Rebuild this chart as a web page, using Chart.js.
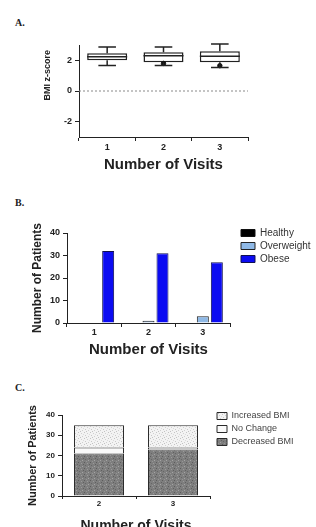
<!DOCTYPE html>
<html><head><meta charset="utf-8">
<script src="https://cdn.jsdelivr.net/npm/chart.js@4.4.1/dist/chart.umd.min.js"></script>
<style>
html,body{margin:0;padding:0;background:#fff;width:316px;height:527px;overflow:hidden;position:relative;}
canvas{position:absolute;left:0;}
.lbl{position:absolute;font:bold 10px/10px "Liberation Serif",serif;color:#222;}
</style></head><body>
<div class="lbl" style="left:15px;top:18px">A.</div>
<div class="lbl" style="left:15px;top:198px">B.</div>
<div class="lbl" style="left:15px;top:383px">C.</div>
<canvas id="cA" width="316" height="180" style="top:0"></canvas>
<canvas id="cB" width="316" height="180" style="top:180px"></canvas>
<canvas id="cC" width="316" height="175" style="top:360px"></canvas>
<script>
// ---------- data ----------
// Panel A: BMI z-score box plots
const visitsA = ['1', '2', '3'];
const whiskerLow = [1.67, 1.67, 1.53];
const q1 = [2.0, 1.87, 1.87];
const median = [2.23, 2.3, 2.27];
const q3 = [2.47, 2.53, 2.6];
const whiskerHigh = [2.87, 2.87, 3.07];
const outlierA = [null, 1.8, 1.65];
const yTicksA = [-2, 0, 2];

// Panel B: weight category counts
const visitsB = ['1', '2', '3'];
const healthy = [0, 0, 0];
const overweight = [0, 1, 3];
const obese = [32, 31, 27];

// Panel C: BMI change counts
const visitsC = ['2', '3'];
const decreasedBMI = [21, 23];
const noChange = [3, 1];
const increasedBMI = [11, 11];

// ---------- styling ----------
const F = '"Liberation Sans", Arial, sans-serif';
const INK = '#222';
Chart.defaults.font.family = F;
Chart.defaults.color = INK;

function axisGrid(len) {
  return { display: true, drawOnChartArea: false, drawTicks: true, tickLength: len, color: INK, lineWidth: 1 };
}
function gapAxis(w) {
  return { type: 'linear', position: 'right', display: true, grid: { display: false }, border: { display: false },
           ticks: { display: false }, afterFit(s) { s.width = w; } };
}
function makePattern(base, dots) {
  const c = document.createElement('canvas');
  c.width = 6; c.height = 6;
  const g = c.getContext('2d');
  g.fillStyle = base; g.fillRect(0, 0, 6, 6);
  dots.forEach(d => { g.fillStyle = d[2]; g.fillRect(d[0], d[1], 1, 1); });
  return g.createPattern(c, 'repeat');
}

// ---------- Panel A ----------
const boxPlugin = {
  id: 'boxWhiskers',
  beforeDatasetsDraw(chart) {
    const { ctx, chartArea } = chart;
    const y = chart.scales.y;
    ctx.save();
    ctx.strokeStyle = '#8a8a8a';
    ctx.lineWidth = 1;
    ctx.setLineDash([2, 2]);
    ctx.beginPath();
    ctx.moveTo(chartArea.left, y.getPixelForValue(0));
    ctx.lineTo(chartArea.right, y.getPixelForValue(0));
    ctx.stroke();
    ctx.restore();
  },
  afterDatasetsDraw(chart) {
    const { ctx } = chart;
    const y = chart.scales.y;
    const meta = chart.getDatasetMeta(0);
    ctx.save();
    ctx.strokeStyle = INK;
    ctx.lineWidth = 1.5;
    meta.data.forEach((bar, i) => {
      const x = bar.x, hw = bar.width / 2, cw = bar.width * 0.22;
      const yMed = y.getPixelForValue(median[i]);
      const yQ1 = y.getPixelForValue(q1[i]);
      const yQ3 = y.getPixelForValue(q3[i]);
      const yLo = y.getPixelForValue(whiskerLow[i]);
      const yHi = y.getPixelForValue(whiskerHigh[i]);
      ctx.beginPath();
      ctx.moveTo(x - hw, yMed); ctx.lineTo(x + hw, yMed);
      ctx.moveTo(x, yQ3); ctx.lineTo(x, yHi);
      ctx.moveTo(x - cw, yHi); ctx.lineTo(x + cw, yHi);
      ctx.moveTo(x, yQ1); ctx.lineTo(x, yLo);
      ctx.moveTo(x - cw, yLo); ctx.lineTo(x + cw, yLo);
      ctx.stroke();
    });
    ctx.restore();
  }
};

new Chart(document.getElementById('cA'), {
  type: 'bar',
  data: {
    labels: visitsA,
    datasets: [
      { label: 'IQR', data: visitsA.map((_, i) => [q1[i], q3[i]]), backgroundColor: '#ffffff',
        borderColor: INK, borderWidth: 1.5, borderSkipped: false, barPercentage: 0.71, categoryPercentage: 1, order: 2 },
      { type: 'line', label: 'Outliers', data: outlierA, showLine: false, pointRadius: 2.2,
        pointBackgroundColor: '#111', pointBorderColor: '#111', order: 1 }
    ]
  },
  options: {
    responsive: false, animation: false, devicePixelRatio: 1,
    layout: { padding: { left: 39, right: 68, top: 45, bottom: 0 } },
    plugins: { legend: { display: false }, tooltip: { enabled: false } },
    scales: {
      x: { offset: true, grid: axisGrid(4), border: { color: INK, width: 1 },
           ticks: { font: { size: 9, weight: 'bold' }, padding: 1, color: INK },
           title: { display: true, text: 'Number of Visits', color: INK, font: { size: 15, weight: 'bold' }, padding: { top: 0, bottom: 6 } },
           afterFit(s) { s.height = 43; } },
      y: { min: -3, max: 3, grid: axisGrid(4), border: { color: INK, width: 1 },
           afterBuildTicks(s) { s.ticks = yTicksA.map(v => ({ value: v })); },
           ticks: { font: { size: 9, weight: 'bold' }, padding: 3, color: INK },
           title: { display: true, text: 'BMI z-score  ', align: 'end', color: INK, font: { size: 9, weight: 'bold' }, padding: { top: 3.6, bottom: 4 } },
           afterFit(s) { s.width = 40; } }
    }
  },
  plugins: [boxPlugin]
});

// ---------- Panel B ----------
new Chart(document.getElementById('cB'), {
  type: 'bar',
  data: {
    labels: visitsB,
    datasets: [
      { label: 'Healthy', data: healthy, backgroundColor: '#000000', borderColor: '#111', borderWidth: 1 },
      { label: 'Overweight', data: overweight, backgroundColor: '#8fb9e6', borderColor: '#222', borderWidth: 1 },
      { label: 'Obese', data: obese, backgroundColor: '#0b0bf2', borderColor: '#101050', borderWidth: 1 }
    ]
  },
  options: {
    responsive: false, animation: false, devicePixelRatio: 1,
    datasets: { bar: { barPercentage: 0.857, categoryPercentage: 0.773 } },
    layout: { padding: { left: 26, right: 0, top: 45, bottom: 0 } },
    plugins: {
      title: { display: true, text: '', font: { size: 6.67 }, padding: 0 },
      tooltip: { enabled: false },
      legend: { position: 'right', align: 'start', maxWidth: 78,
        labels: { boxWidth: 14, boxHeight: 7, padding: 3, color: '#333', font: { size: 10 } } }
    },
    scales: {
      x: { offset: true, grid: axisGrid(4), border: { color: INK, width: 1 },
           ticks: { font: { size: 9, weight: 'bold' }, padding: 0, color: INK },
           title: { display: true, text: 'Number of Visits', color: INK, font: { size: 15, weight: 'bold' }, padding: { top: 0, bottom: 1 } },
           afterFit(s) { s.height = 37; } },
      y: { min: 0, max: 40, grid: axisGrid(4), border: { color: INK, width: 1 },
           ticks: { stepSize: 10, font: { size: 9, weight: 'bold' }, padding: 3, color: INK },
           title: { display: true, text: 'Number of Patients', color: INK, font: { size: 12, weight: 'bold' }, padding: { top: 4, bottom: 4 } },
           afterFit(s) { s.width = 41; } },
      gap: gapAxis(8)
    }
  }
});

// ---------- Panel C ----------
const patDecreased = makePattern('#7e7e7e', [[0,0,'#5c5c5c'],[3,1,'#9a9a9a'],[1,3,'#666'],[4,4,'#a4a4a4'],[5,2,'#606060'],[2,5,'#959595']]);
const patIncreased = makePattern('#f3f3f3', [[0,0,'#c4c4c4'],[3,1,'#d0d0d0'],[1,3,'#c8c8c8'],[4,4,'#cfcfcf'],[5,2,'#dadada'],[2,5,'#c2c2c2']]);

new Chart(document.getElementById('cC'), {
  type: 'bar',
  data: {
    labels: visitsC,
    datasets: [
      { label: 'Decreased BMI', data: decreasedBMI, backgroundColor: patDecreased, borderColor: '#2a2a2a', borderWidth: 1 },
      { label: 'No Change', data: noChange, backgroundColor: '#fafafa', borderColor: '#2a2a2a', borderWidth: 1 },
      { label: 'Increased BMI', data: increasedBMI, backgroundColor: patIncreased, borderColor: '#2a2a2a', borderWidth: 1 }
    ]
  },
  options: {
    responsive: false, animation: false, devicePixelRatio: 1,
    datasets: { bar: { barPercentage: 0.676, categoryPercentage: 1 } },
    layout: { padding: { left: 22, right: 19, top: 47.5, bottom: 0 } },
    plugins: {
      title: { display: true, text: '', font: { size: 6.25 }, padding: 0 },
      tooltip: { enabled: false },
      legend: { position: 'right', align: 'start', maxWidth: 84, reverse: true,
        labels: { boxWidth: 10, boxHeight: 7, padding: 4, color: '#444', font: { size: 9 } } }
    },
    scales: {
      x: { stacked: true, offset: true, grid: axisGrid(3), border: { color: INK, width: 1 },
           ticks: { font: { size: 8, weight: 'bold' }, padding: 0, color: INK },
           title: { display: true, text: 'Number of Visits', color: INK, font: { size: 14, weight: 'bold' }, padding: { top: 0, bottom: 0.6 } },
           afterFit(s) { s.height = 39; } },
      y: { stacked: true, min: 0, max: 40, grid: axisGrid(4), border: { color: INK, width: 1 },
           ticks: { stepSize: 10, font: { size: 8, weight: 'bold' }, padding: 3, color: INK },
           title: { display: true, text: 'Number of Patients', color: INK, font: { size: 11, weight: 'bold' }, padding: { top: 4, bottom: 4 } },
           afterFit(s) { s.width = 40; } },
      gap: gapAxis(3)
    }
  }
});
</script>
</body></html>
